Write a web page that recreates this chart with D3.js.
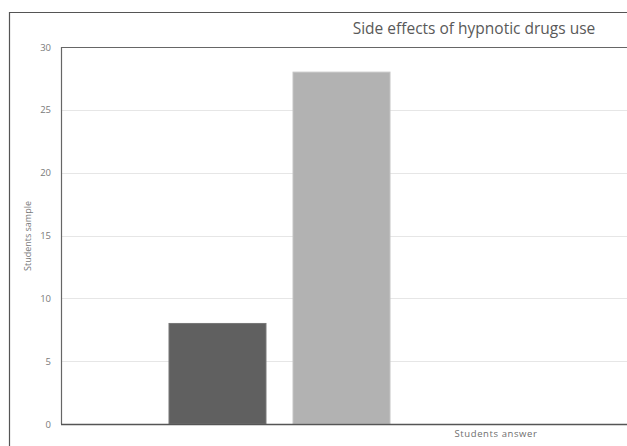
<!DOCTYPE html>
<html>
<head>
<meta charset="utf-8">
<script src="https://cdn.jsdelivr.net/npm/d3@7/dist/d3.min.js"></script>
<style>
  html, body { margin: 0; padding: 0; background: #fff; }
  svg { display: block; }
</style>
</head>
<body>
<svg id="chart" width="627" height="446"></svg>
<script>
// Chart data
const categories = ["Yes", "No"];
const values = [8, 28];
const barColors = ["#606060", "#b2b2b2"];
const yTicks = [0, 5, 10, 15, 20, 25, 30];
const titleText = "Side effects of hypnotic drugs use";
const yTitle = "Students sample";
const xTitle = "Students answer";

const W = 627, H = 446;
const plot = { left: 61, top: 47, right: 640, bottom: 424 };

const svg = d3.select("#chart");

// outer frame (left and top edges visible)
svg.append("path")
  .attr("d", `M9.5,${H + 2} V12.5 H${W + 2}`)
  .attr("fill", "none")
  .attr("stroke", "#555")
  .attr("stroke-width", 1.2);

const y = d3.scaleLinear().domain([0, 30]).range([plot.bottom, plot.top]);
const x = d3.scaleBand()
  .domain(categories)
  .range([145, 414])
  .paddingInner(0.218)
  .paddingOuter(0.1935);

// gridlines
svg.append("g")
  .selectAll("line")
  .data(yTicks.filter(d => d > 0 && d < 30))
  .join("line")
  .attr("x1", plot.left)
  .attr("x2", plot.right)
  .attr("y1", d => Math.round(y(d)) + 0.5)
  .attr("y2", d => Math.round(y(d)) + 0.5)
  .attr("stroke", "#e6e6e6")
  .attr("stroke-width", 1);

// bars
svg.append("g")
  .selectAll("rect")
  .data(values)
  .join("rect")
  .attr("x", (d, i) => x(categories[i]))
  .attr("y", d => y(d))
  .attr("width", x.bandwidth())
  .attr("height", d => y(0) - y(d))
  .attr("fill", (d, i) => barColors[i])
  .attr("stroke", (d, i) => i === 0 ? "#777" : "#c4c4c4")
  .attr("stroke-width", 1);

// plot frame: left edge and top edge
svg.append("path")
  .attr("d", `M${plot.left + 0.5},${plot.bottom} V${plot.top + 0.5} H${W + 2}`)
  .attr("fill", "none")
  .attr("stroke", "#666")
  .attr("stroke-width", 1.2);

// y axis tick labels
const yAxis = d3.axisLeft(y).tickValues(yTicks).tickSize(0).tickPadding(10);
const gy = svg.append("g")
  .attr("transform", `translate(${plot.left},0)`)
  .call(yAxis);
gy.select(".domain").remove();
gy.selectAll("text")
  .attr("fill", "#7a7a7a")
  .style("font-family", "'Open Sans', sans-serif")
  .style("font-size", "9.5px");

// x baseline
const xAxis = d3.axisBottom(x).tickSize(0).tickFormat("");
const gx = svg.append("g")
  .attr("transform", `translate(0,${plot.bottom})`)
  .call(xAxis);
gx.select(".domain").remove();
gx.append("line")
  .attr("x1", plot.left)
  .attr("x2", W + 2)
  .attr("y1", 0.5)
  .attr("y2", 0.5)
  .attr("stroke", "#555")
  .attr("stroke-width", 1.4);

// titles
svg.append("text")
  .attr("x", 474)
  .attr("y", 34)
  .attr("text-anchor", "middle")
  .attr("fill", "#595959")
  .style("font-family", "'Open Sans', sans-serif")
  .style("font-size", "15.5px")
  .text(titleText);

svg.append("text")
  .attr("transform", "translate(31,236) rotate(-90)")
  .attr("text-anchor", "middle")
  .attr("fill", "#7a7a7a")
  .style("font-family", "'Open Sans', sans-serif")
  .style("font-size", "9px")
  .text(yTitle);

svg.append("text")
  .attr("x", 496)
  .attr("y", 437)
  .attr("text-anchor", "middle")
  .attr("fill", "#6e6e6e")
  .style("font-family", "'Open Sans', sans-serif")
  .style("font-size", "9.5px")
  .style("letter-spacing", "0.6px")
  .text(xTitle);
</script>
</body>
</html>
